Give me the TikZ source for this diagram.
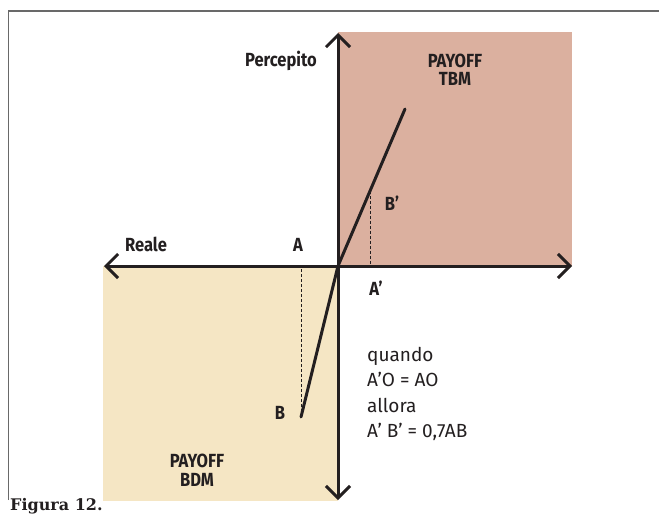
\documentclass[tikz,border=0pt]{standalone}
\usepackage{fontspec}
\setmainfont{Fira Sans}[FakeStretch=0.87]
\newfontfamily\notefont{Fira Sans}
\newfontfamily\capfont{DejaVu Serif}
\usetikzlibrary{arrows.meta, calc, positioning}
\definecolor{payoffpink}{RGB}{219,176,159}
\definecolor{payoffsand}{RGB}{245,230,196}
\definecolor{inkdark}{RGB}{35,31,32}
\definecolor{framegray}{RGB}{105,105,105}

\begin{document}
\begin{tikzpicture}[x=1pt, y=-1pt,
  axis/.style={draw=inkdark, line width=3pt, <->},
  curve/.style={draw=inkdark, line width=3pt, line cap=round},
  guide/.style={draw=inkdark, line width=1pt, dash pattern=on 3pt off 2pt},
  lbl/.style={font=\fontsize{19}{18.5}\selectfont\bfseries, text=inkdark, inner sep=0pt, align=center},
  note/.style={font=\notefont\fontsize{19}{25.5}\selectfont, text=inkdark, inner sep=0pt, align=left},
  >={Straight Barb[length=12pt, width=24pt]}
]
\useasboundingbox (0,0) rectangle (659,514);
% frame
\draw[framegray, line width=1.3pt] (8.5,500) -- (8.5,11) -- (659,11);
% payoff areas
\fill[payoffpink] (338,32) rectangle (572,266);
\fill[payoffsand] (103,266) rectangle (338,501);
% axes
\coordinate (O) at (338,266);
\coordinate (L) at (104,266);
\coordinate (R) at (572,266);
\coordinate (U) at (338,33);
\coordinate (D) at (338,500);
\draw[axis] (L) -- (R);
\draw[axis] (U) -- (D);
% perception line
\coordinate (T) at (405,109);
\coordinate (B) at (301,417);
\coordinate (Bp) at ($(O)!0.478!(T)$);
\draw[curve] (B) -- (O) -- (T);
\draw[guide] (Bp) -- (Bp |- O);
\draw[guide] (B) -- (B |- O);
% labels
\node[lbl] (percepito) at (281,61) {Percepito};
\node[lbl] (tbm) at (455,70) {PAYOFF\\TBM};
\node[lbl] (bplbl) at (392,203) {B’};
\node[lbl] (reale) at (146,244) {Reale};
\node[lbl] (albl) at (298,245) {A};
\node[lbl] (aplbl) at (376,288) {A’};
\node[lbl] (blbl) at (280,413) {B};
\node[lbl] (bdm) at (197,470) {PAYOFF\\BDM};
\node[note, anchor=north west] (cond) at (367,347) {quando\\A’O = AO\\allora\\A’ B’ = 0,7AB};
\node[anchor=base west, inner sep=0pt, text=inkdark, font=\capfont\bfseries\fontsize{16}{16}\selectfont] (fig) at (10,510) {Figura 12.};
\end{tikzpicture}
\end{document}
